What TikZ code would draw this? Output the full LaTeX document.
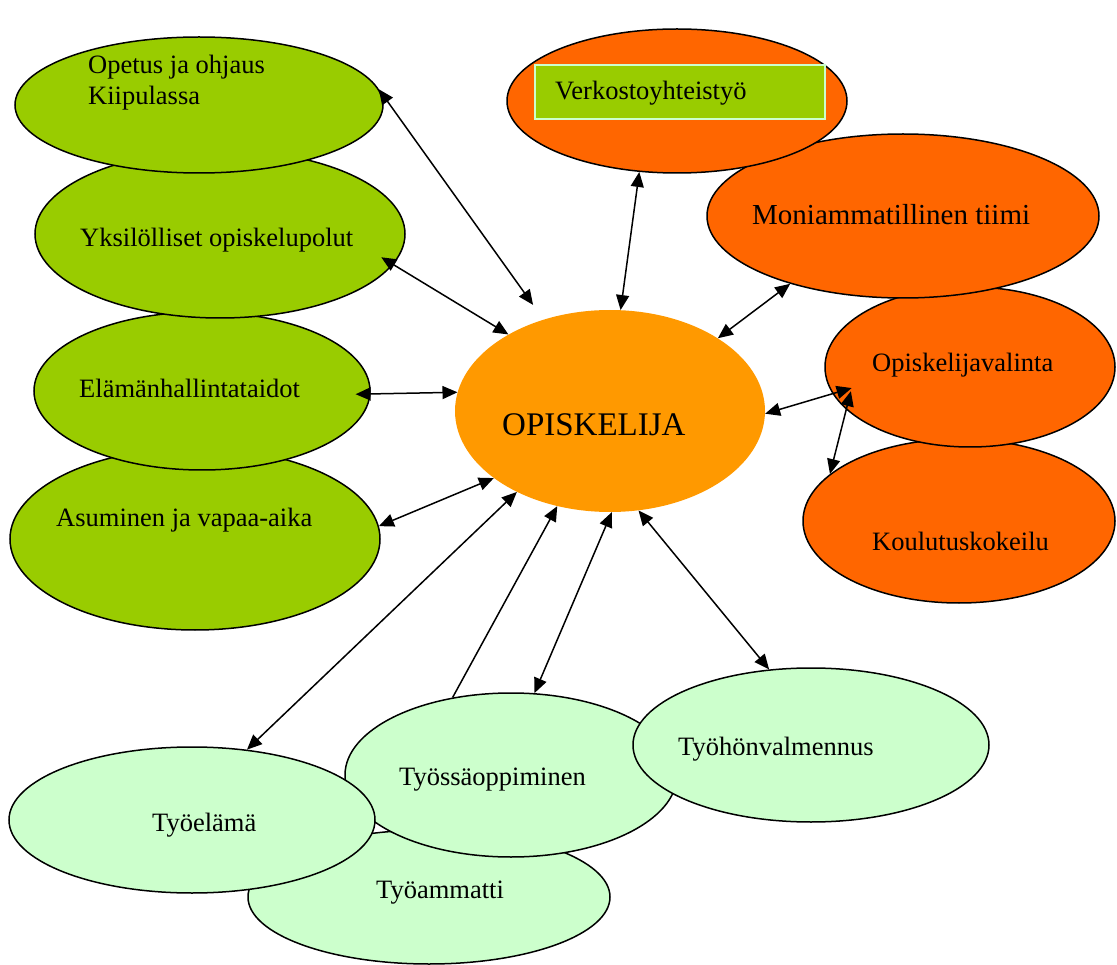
\documentclass[tikz,border=0pt]{standalone}
\usepackage{fontspec}
\setmainfont{Liberation Serif}
\usetikzlibrary{shapes.geometric,arrows.meta}

\definecolor{leaf}{HTML}{99CC00}
\definecolor{rust}{HTML}{FF6600}
\definecolor{amber}{HTML}{FF9900}
\definecolor{mint}{HTML}{CCFFCC}

\tikzset{
  blob/.style={ellipse, draw=black, line width=1.5pt, inner sep=0pt},
  lbl/.style={anchor=base west, inner sep=0pt, font=\fontsize{26.5}{30}\selectfont},
  link/.style={line width=1.5pt, {Triangle[length=15pt,width=13pt]}-{Triangle[length=15pt,width=13pt]}},
  oneway/.style={line width=1.5pt, -{Triangle[length=15pt,width=13pt]}},
}

\begin{document}
\begin{tikzpicture}[x=1pt,y=-1pt]
    \useasboundingbox (0,0) rectangle (1117,965);

    % left column
    \node[blob, fill=leaf, minimum width=370, minimum height=182] (asum) at (195,539) {};
    \node[blob, fill=leaf, minimum width=336, minimum height=158] (elam) at (202,391) {};
    \node[blob, fill=leaf, minimum width=370, minimum height=168] (yksi) at (220,234) {};
    \node[blob, fill=leaf, minimum width=368, minimum height=136] (opetus) at (199,105) {};

    % right column
    \node[blob, fill=rust, minimum width=312, minimum height=164] (koul) at (959,521) {};
    \node[blob, fill=rust, minimum width=290, minimum height=160] (opval) at (970,367) {};
    \node[blob, fill=rust, minimum width=392, minimum height=164] (moni) at (903,216) {};
    \node[blob, fill=rust, minimum width=340, minimum height=144] (verk) at (677,101) {};
    \node[draw=mint, fill=leaf, line width=1.2pt, minimum width=290, minimum height=54, inner sep=0pt] (verkbox) at (680,92) {};

    % bottom
    \node[blob, fill=mint, minimum width=362, minimum height=134] (tyoam) at (429,897) {};
    \node[blob, fill=mint, minimum width=332, minimum height=164] (tyoss) at (511,775) {};
    \node[blob, fill=mint, minimum width=366, minimum height=146] (tyoel) at (192,820) {};
    \node[blob, fill=mint, minimum width=356, minimum height=154] (tyohon) at (811,745) {};

    % centre
    \node[ellipse, fill=amber, inner sep=0pt, minimum width=310, minimum height=202] (opis) at (610,411) {};

    % texts
    \node[lbl] (t-opetus) at (88,74) {Opetus ja ohjaus};
    \node[lbl] (t-kiip) at (88,105) {Kiipulassa};
    \node[lbl] (t-yksi) at (80,247) {Yksilölliset opiskelupolut};
    \node[lbl] (t-elam) at (79,398) {Elämänhallintataidot};
    \node[lbl] (t-asum) at (56,526) {Asuminen ja vapaa-aika};
    \node[lbl] (t-verk) at (555,100) {Verkostoyhteistyö};
    \node[lbl, font=\fontsize{29}{33}\selectfont] (t-moni) at (752,225) {Moniammatillinen tiimi};
    \node[lbl] (t-opval) at (872,372) {Opiskelijavalinta};
    \node[lbl] (t-koul) at (872,550) {Koulutuskokeilu};
    \node[lbl, font=\fontsize{33}{37}\selectfont] (t-opis) at (502,436) {OPISKELIJA};
    \node[lbl] (t-tyoel) at (152,831) {Työelämä};
    \node[lbl] (t-tyoss) at (399,785) {Työssäoppiminen};
    \node[lbl] (t-tyohon) at (678,755) {Työhönvalmennus};
    \node[lbl] (t-tyoam) at (376,898) {Työammatti};

    % connectors
    \draw[link, shorten >=18pt] (opetus.5) -- (opis.126.7);
    \draw[link, shorten <=-14pt] (yksi.-10) -- (opis.143.6);
    \draw[link, shorten <=-15pt] (elam.-1) -- (opis.173.4);
    \draw[link] (asum.4.3) -- (opis.210.7);
    \draw[link] (tyoel.52.3) -- (opis.221.5);
    \draw[oneway] (tyoss.127) -- (opis.241.3);
    \draw[link] (tyoss.74.7) -- (opis.271);
    \draw[link] (tyohon.119.4) -- (opis.286.6);
    \draw[link] (verk.242.2) -- (opis.84.2);
    \draw[link] (moni.211.9) -- (opis.34.7);
    \draw[link, shorten >=-20pt] (opis.-1) -- (opval.191.1);
    \draw[link, shorten >=-19pt] (koul.160) -- (opval.199.3);
\end{tikzpicture}
\end{document}
